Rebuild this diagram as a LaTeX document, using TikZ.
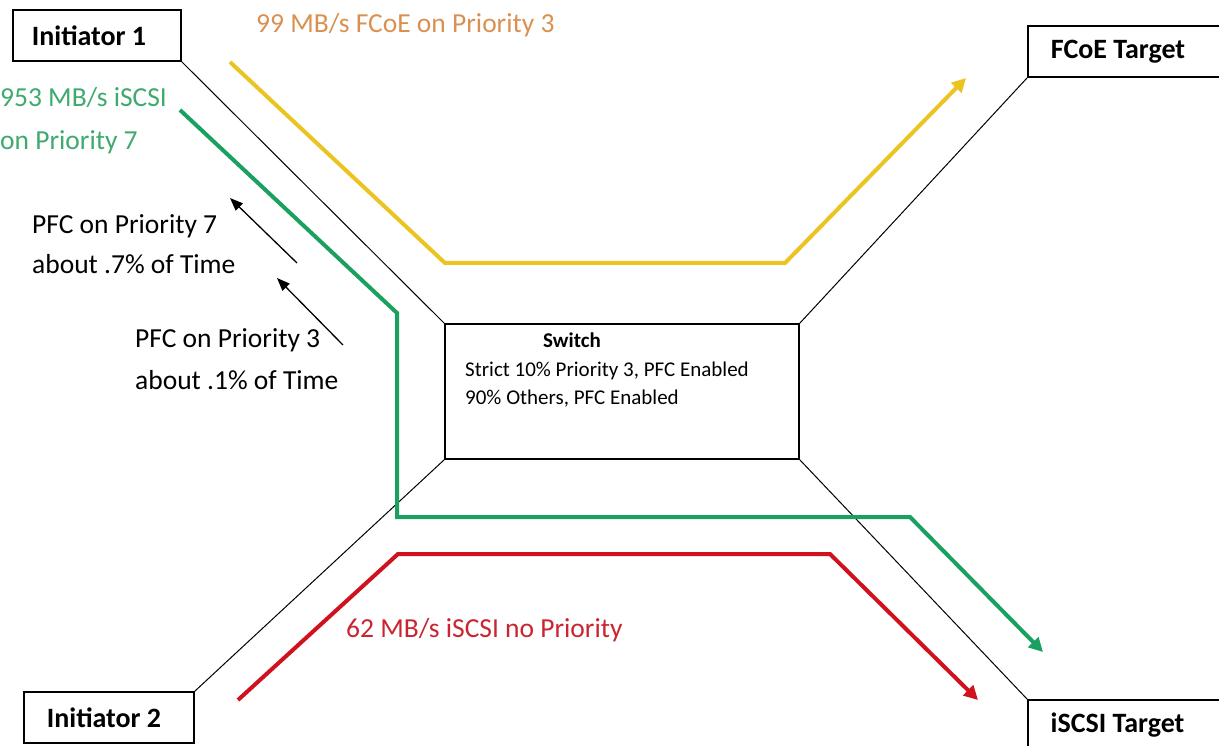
\documentclass[tikz,border=0pt]{standalone}
\usepackage{fontspec}
\setmainfont{Carlito}
\usetikzlibrary{arrows.meta}
\definecolor{fcoeyellow}{HTML}{EBC421}
\definecolor{iscsigreen}{HTML}{1AA160}
\definecolor{iscsired}{HTML}{CF121D}
\definecolor{fcoetext}{HTML}{DA9050}
\definecolor{greentext}{HTML}{3FAA6E}
\definecolor{redtext}{HTML}{C92530}

\begin{document}
\begin{tikzpicture}[
x=1pt,y=-1pt,
box/.style={
draw,
line width=1.4pt,
inner sep=0pt,
minimum height=51pt,
font=\fontsize{28}{32}\selectfont\bfseries
},
link/.style={line width=1pt},
flow/.style={line width=4pt,-{Triangle[length=14pt,width=14pt]}},
pfc/.style={line width=1.3pt,-{Triangle[length=13pt,width=10pt]}},
lbl/.style={inner sep=0pt,anchor=west,align=left},
>=Latex
]
\useasboundingbox (0,0) rectangle (1219,746);
\clip (0,0) rectangle (1219,746);

% end stations
\node (init1) [box,minimum width=168pt] at (97,35.5) {\hspace*{-16pt}Initiator 1};
\node (fcoe) [box,minimum width=200pt] at (1128,51.5) {\hspace*{-20pt}FCoE Target};
\node (init2) [box,minimum width=170pt] at (109,717.5) {\hspace*{-10pt}Initiator 2};
\node (iscsi) [box,minimum width=200pt] at (1128,725.5) {\hspace*{-21pt}iSCSI Target};

% switch
\node (switch) [draw,line width=1.4pt,minimum width=354pt,minimum height=135pt] at (622,391.5) {};
\node (switchtxt) [lbl,anchor=north west,font=\fontsize{21}{28.5}\selectfont] at (465,333)
{\hspace*{78pt}\textbf{Switch}\\
Strict 10\% Priority 3, PFC Enabled\\
90\% Others, PFC Enabled};

\draw[link] (init1.south east) -- (switch.north west);
\draw[link] (fcoe.south west) -- (switch.north east);
\draw[link] (init2.north east) -- (switch.south west);
\draw[link] (iscsi.north west) -- (switch.south east);

% traffic
\coordinate (fcoestart) at (230,62);
\coordinate (fcoeend) at (966,78);
\coordinate (greenstart) at (180,110);
\coordinate (greenend) at (1043,652);
\coordinate (redstart) at (238,700);
\coordinate (redend) at (978,700);

\draw[flow,fcoeyellow] (fcoestart) -- (445,263) -- (785,263) -- (fcoeend);
\draw[flow,iscsigreen] (greenstart) -- (397,313) -- (397,517) -- (910,517) -- (greenend);
\draw[flow,iscsired] (redstart) -- (398,554) -- (830,554) -- (redend);

\node (fcoelbl) [lbl,text=fcoetext,font=\fontsize{27.5}{30}\selectfont] at (256,25)
{99 MB/s FCoE on Priority 3};
\node (greenlbl) [lbl,text=greentext,font=\fontsize{27.5}{43}\selectfont] at (0,121)
{953 MB/s iSCSI\\on Priority 7};
\node (redlbl) [lbl,text=redtext,font=\fontsize{27.5}{30}\selectfont] at (346,630)
{62 MB/s iSCSI no Priority};

% pause frames
\coordinate (pfc7tail) at (297,263);
\coordinate (pfc7tip) at (230,198);
\coordinate (pfc3tail) at (343,345);
\coordinate (pfc3tip) at (277,278);
\draw[pfc] (pfc7tail) -- (pfc7tip);
\draw[pfc] (pfc3tail) -- (pfc3tip);

\node (pfc7lbl) [lbl,font=\fontsize{27.5}{40}\selectfont] at (32,244)
{PFC on Priority 7\\about .7\% of Time};
\node (pfc3lbl) [lbl,font=\fontsize{27.5}{42}\selectfont] at (135,359)
{PFC on Priority 3\\about .1\% of Time};

\end{tikzpicture}
\end{document}
